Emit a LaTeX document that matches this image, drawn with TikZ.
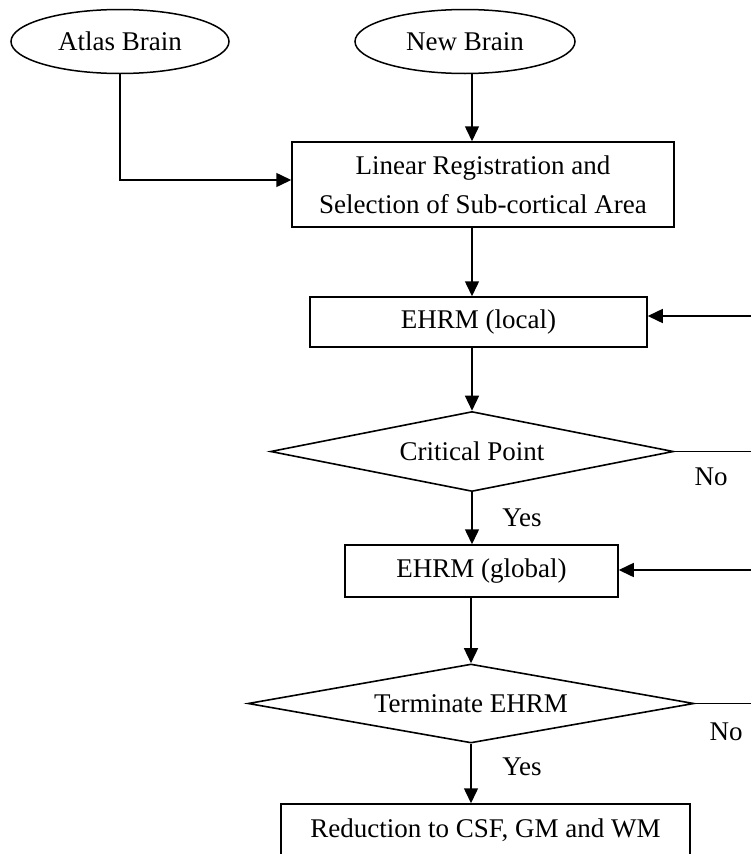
\documentclass[tikz,border=0pt]{standalone}
\usepackage{fontspec}
\setmainfont{Liberation Serif}
\usetikzlibrary{shapes.geometric,arrows.meta}
\begin{document}
\begin{tikzpicture}[x=1pt,y=-1pt,
  every node/.style={font=\fontsize{27}{39}\selectfont, inner sep=0pt},
  ell/.style={draw, ellipse, line width=1.5pt},
  box/.style={draw, rectangle, line width=1.5pt, align=center},
  dia/.style={draw, diamond, line width=1.6pt},
  arr/.style={line width=1.5pt, -{Triangle[length=15pt,width=14pt]}},
  lbl/.style={font=\fontsize{27}{32}\selectfont}]
\useasboundingbox (0,0) rectangle (751,854);
\clip (0,0) rectangle (751,854);
\coordinate (ax) at (472,0);
\node[ell, minimum width=218pt, minimum height=64pt] (atlas) at (120,41.5) {Atlas Brain};
\node[ell, minimum width=220pt, minimum height=64pt] (newb) at (465,41.5) {New Brain};
\node[box, minimum width=382pt, minimum height=85pt] (linreg) at (483,184.5) {Linear Registration and\\Selection of Sub-cortical Area};
\node[box, minimum width=337pt, minimum height=50pt] (local) at (478.5,322) {EHRM (local)};
\node[dia, shape aspect=5, minimum width=403pt, minimum height=80pt] (crit) at (472,451.5) {Critical Point};
\node[box, minimum width=273pt, minimum height=52pt] (global) at (481.5,571) {EHRM (global)};
\node[dia, shape aspect=5.6, minimum width=446pt, minimum height=79pt] (term) at (471,703.5) {Terminate EHRM};
\node[box, minimum width=409pt, minimum height=52pt] (red) at (485.5,830) {Reduction to CSF, GM and WM};

\draw[arr] (atlas.south) |- ([yshift=4.5pt]linreg.west);
\draw[arr] (newb.south -| ax) -- (linreg.north -| ax);
\draw[arr] (linreg.south -| ax) -- (local.north -| ax);
\draw[arr] (local.south -| crit.north) -- (crit.north);
\draw[arr] (crit.south) -- (global.north -| crit.south);
\draw[arr] (global.south -| term.north) -- (term.north);
\draw[arr] (term.south) -- (red.north -| term.south);
\draw[arr] (crit.east) -- ++(120,0) |- ([yshift=6pt]local.east);
\draw[arr] (term.east) -- ++(120,0) |- ([yshift=1pt]global.east);

\node[lbl] (no1) at (711,477) {No};
\node[lbl] (no2) at (726,732) {No};
\node[lbl] (yes1) at (522,518) {Yes};
\node[lbl] (yes2) at (522,767) {Yes};
\end{tikzpicture}
\end{document}
